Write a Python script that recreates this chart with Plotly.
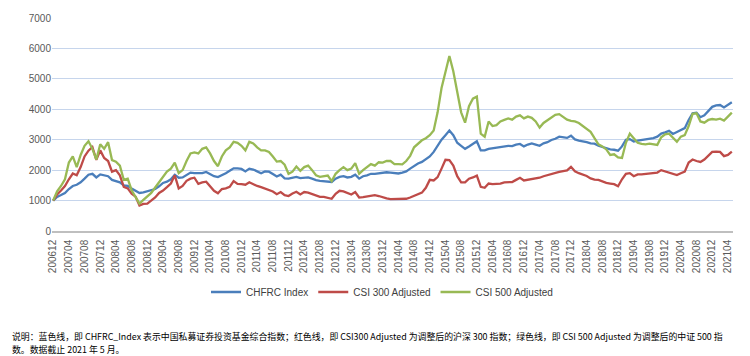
import plotly.graph_objects as go

# ---- data ----
start_year, start_month, n_months = 2006, 12, 174
months = []
y, m = start_year, start_month
for _ in range(n_months):
    months.append(f"{y}{m:02d}")
    m += 1
    if m > 12:
        m = 1
        y += 1

tick_labels = months[::4]

chfrc_index = [
    1000, 1120, 1180, 1250, 1380, 1480, 1520, 1600, 1720, 1850,
    1880, 1760, 1860, 1820, 1800, 1680, 1650, 1600, 1500, 1480,
    1400, 1330, 1250, 1270, 1300, 1330, 1380, 1470, 1580, 1620,
    1700, 1850, 1750, 1760, 1830, 1920, 1900, 1910, 1900, 1940,
    1860, 1800, 1770, 1830, 1900, 1980, 2060, 2060, 2040, 1960,
    2050, 2020, 1950, 1900, 1960, 1950, 1870, 1790, 1850, 1730,
    1720, 1740, 1780, 1740, 1760, 1760, 1720, 1670, 1650, 1640,
    1640, 1610, 1720, 1780, 1800, 1760, 1780, 1850, 1720, 1800,
    1830, 1880, 1880, 1900, 1920, 1930, 1920, 1900, 1890, 1920,
    1960, 2050, 2150, 2220, 2270, 2350, 2450, 2600, 2800, 3000,
    3150, 3300, 3150, 2900, 2800, 2700, 2780, 2880, 2950, 2650,
    2650, 2700, 2720, 2720, 2760, 2780, 2800, 2790, 2840, 2860,
    2780, 2840, 2880, 2840, 2800, 2880, 2920, 2990, 3030, 3100,
    3080, 3060, 3130, 3010, 2970, 2950, 2920, 2880, 2870, 2800,
    2760, 2740, 2680, 2670, 2640, 2780, 3000, 3020, 2940, 2970,
    2990, 3010, 3030, 3050, 3100, 3200, 3240, 3290, 3190, 3250,
    3300, 3380, 3650, 3870, 3890, 3740, 3800, 3950, 4080, 4130,
    4140, 4060, 4140, 4230,
]

csi300_adjusted = [
    1000, 1200, 1330, 1480, 1700, 1890, 1830, 2100, 2450, 2640,
    2760, 2340, 2650, 2400, 2300, 1950, 2000, 1830, 1450, 1400,
    1230, 1130, 840, 890, 900, 1000, 1100, 1250, 1330, 1440,
    1560, 1830, 1400, 1480, 1650, 1720, 1750, 1550, 1600, 1620,
    1450, 1320, 1240, 1380, 1400, 1450, 1640, 1550, 1540, 1520,
    1600, 1530, 1480, 1440, 1400, 1340, 1300, 1210, 1280, 1180,
    1150, 1230, 1290, 1200, 1280, 1260, 1220, 1170, 1120, 1120,
    1080, 1060, 1220, 1320, 1300, 1240, 1200, 1280, 1100, 1110,
    1140, 1170, 1180, 1150, 1100, 1070, 1050, 1050, 1040, 1040,
    1060, 1100, 1150, 1200, 1260, 1420, 1680, 1660, 1770, 2050,
    2340, 2330, 2150, 1800, 1600, 1600, 1720, 1760, 1820, 1450,
    1420, 1560, 1540, 1550, 1560, 1600, 1600, 1610, 1680, 1750,
    1660, 1680, 1700, 1720, 1750, 1800, 1840, 1880, 1910, 1940,
    1970, 1990, 2110, 1960, 1900, 1860, 1810, 1730, 1690, 1680,
    1620, 1580, 1560, 1540, 1470, 1700, 1880, 1900, 1800, 1860,
    1860, 1880, 1900, 1910, 1920, 2000, 1960, 1910, 1880, 1840,
    1900, 1950, 2250, 2350, 2300, 2270, 2350, 2480, 2600, 2610,
    2600, 2460, 2500, 2610,
]

csi500_adjusted = [
    1000, 1300, 1480, 1700, 2250, 2450, 2100, 2500, 2800, 2950,
    2700, 2350, 2850, 2700, 2920, 2330, 2280, 2150, 1680, 1720,
    1340, 1120, 900, 1020, 1150, 1250, 1430, 1600, 1760, 1950,
    2050, 2250, 1900, 2000, 2300, 2550, 2580, 2550, 2700, 2750,
    2550, 2300, 2130, 2450, 2650, 2750, 2930, 2900, 2800, 2650,
    2930, 2880, 2750, 2650, 2650, 2600, 2450, 2280, 2300, 2180,
    1880, 1950, 2120, 1980, 2100, 2150, 2000, 1830, 1780, 1800,
    1820, 1640, 1880, 2000, 2100, 2000, 2050, 2230, 1880, 2000,
    2100, 2200, 2150, 2260, 2250, 2300, 2300, 2200, 2200, 2190,
    2300, 2470, 2750, 2880, 2980, 3050, 3150, 3300, 3900, 4700,
    5250, 5750, 5250, 4550, 3900, 3560, 4100, 4350, 4420, 3200,
    3100, 3600, 3450, 3480, 3600, 3650, 3700, 3660, 3760, 3800,
    3700, 3760, 3720, 3600, 3400, 3550, 3650, 3750, 3820, 3840,
    3760, 3660, 3620, 3600, 3550, 3450, 3350, 3260, 3050, 2850,
    2780, 2680, 2500, 2520, 2420, 2400, 2900, 3200, 3050, 2900,
    2860, 2850, 2870, 2840, 2830, 3080, 3180, 3200, 3050, 2930,
    3100, 3150, 3450, 3850, 3870, 3600, 3560, 3650, 3680, 3660,
    3690, 3630, 3760, 3890,
]

series_names = ["CHFRC Index", "CSI 300 Adjusted", "CSI 500 Adjusted"]
series_values = [chfrc_index, csi300_adjusted, csi500_adjusted]
series_colors = ["#4A7EBB", "#BE4B48", "#98B954"]

y_ticks = [0, 1000, 2000, 3000, 4000, 5000, 6000, 7000]

footnote_line1 = ("说明：蓝色线，即 CHFRC_Index 表示中国私募证券投资基金综合指数；红色线，即 CSI300 Adjusted "
                  "为调整后的沪深 300 指数；绿色线，即 CSI 500 Adjusted 为调整后的中证 500 指")
footnote_line2 = "数。数据截止 2021 年 5 月。"

# ---- figure ----
fig = go.Figure()
for name, vals, col in zip(series_names, series_values, series_colors):
    fig.add_trace(go.Scatter(
        x=months, y=vals, mode="lines", name=name,
        line=dict(color=col, width=2.3),
    ))

W, H = 750, 356
L, R, T, B = 52, 17, 18, 125
plot_w = W - L - R
plot_h = H - T - B

def px_to_paper_x(px):
    return (px - L) / plot_w

def px_to_paper_y(py):
    return (H - B - py) / plot_h

fig.update_layout(
    width=W, height=H,
    margin=dict(l=L, r=R, t=T, b=B, pad=0, autoexpand=False),
    paper_bgcolor="white", plot_bgcolor="white",
    font=dict(family="Liberation Sans, Arial, sans-serif", size=10, color="#595959"),
    showlegend=True,
    legend=dict(
        orientation="h", x=px_to_paper_x(382), xanchor="center",
        y=px_to_paper_y(292), yanchor="middle",
        font=dict(size=10, color="#404040"),
        itemwidth=30, tracegroupgap=0,
    ),
    xaxis=dict(
        type="category", range=[-0.3, len(months) - 0.7],
        tickmode="array", tickvals=tick_labels, ticktext=tick_labels,
        tickangle=-90, showgrid=False, showline=True,
        linecolor="#BFBFBF", linewidth=1.5,
        ticks="outside", ticklen=3, tickcolor="rgba(0,0,0,0)",
        tickfont=dict(size=10, color="#595959"),
        fixedrange=True, automargin=False,
    ),
    yaxis=dict(
        range=[0, 7000], tickvals=y_ticks, showgrid=True,
        gridcolor="#C6D5EC", gridwidth=1, zeroline=False,
        showline=False, ticks="", tickfont=dict(size=10, color="#595959"),
        fixedrange=True, automargin=False,
    ),
)

foot_font = dict(family="Noto Sans CJK SC", size=8.9, color="#000000")
fig.add_annotation(
    text=footnote_line1, xref="paper", yref="paper",
    x=px_to_paper_x(10), y=px_to_paper_y(336), xanchor="left", yanchor="middle",
    showarrow=False, font=foot_font,
)
fig.add_annotation(
    text=footnote_line2, xref="paper", yref="paper",
    x=px_to_paper_x(10), y=px_to_paper_y(349), xanchor="left", yanchor="middle",
    showarrow=False, font=foot_font,
)

fig.write_html(
    "out.html",
    config={"displayModeBar": False},
    post_script="document.body.style.margin='0';document.body.style.overflow='hidden';",
)
